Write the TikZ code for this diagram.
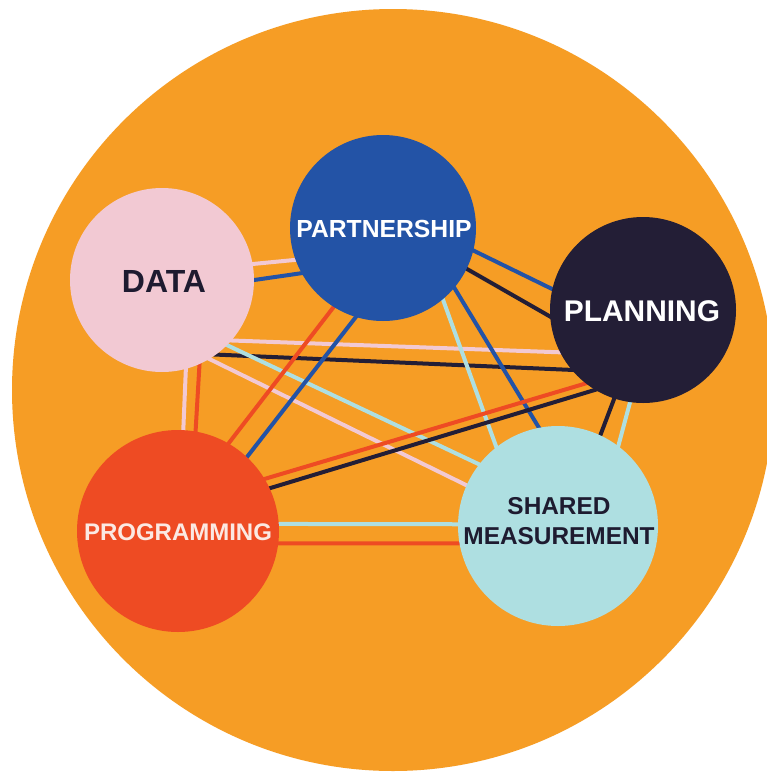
\documentclass[tikz,border=0pt]{standalone}
\usepackage{fontspec}
\setmainfont{Liberation Sans}
\pgfdeclarelayer{bglayer}
\pgfdeclarelayer{linelayer}
\pgfsetlayers{bglayer,linelayer,main}
\definecolor{orangebg}{HTML}{F69D25}
\definecolor{pinkc}{HTML}{F2C9D3}
\definecolor{bluec}{HTML}{2353A6}
\definecolor{navyc}{HTML}{231E36}
\definecolor{redc}{HTML}{EE4B23}
\definecolor{lbluec}{HTML}{AEDFE1}
\definecolor{textnavy}{HTML}{1E1B30}
\definecolor{creamc}{HTML}{FBE9E3}
\begin{document}
\begin{tikzpicture}[x=1pt,y=-1pt,
  circ/.style={circle, inner sep=0pt, draw=none},
  lbl/.style={inner sep=0pt, align=center, font=\bfseries},
  ln/.style={line width=4pt, shorten <=-3pt, shorten >=-3pt}]
\useasboundingbox (0,0) rectangle (767,774);
\begin{pgfonlayer}{bglayer}
  \fill[white] (0,0) rectangle (767,774);
  \begin{scope}
    \clip (0,0) rectangle (767,774);
    \fill[orangebg] (393,390) circle[radius=381pt];
  \end{scope}
\end{pgfonlayer}

% circles
\node[circ, fill=pinkc, minimum size=184pt] (data) at (162,280) {};
\node[circ, fill=bluec, minimum size=186pt] (part) at (383,228) {};
\node[circ, fill=navyc, minimum size=186pt] (plan) at (643,310) {};
\node[circ, fill=redc, minimum size=202pt] (prog) at (178,531) {};
\node[circ, fill=lbluec, minimum size=200pt] (meas) at (558,526) {};

% labels
\node[lbl, text=textnavy, font=\bfseries\fontsize{32}{36}\selectfont] (datat) at (164,281) {DATA};
\node[lbl, text=white, font=\bfseries\fontsize{24.7}{28}\selectfont] (partt) at (384,229) {PARTNERSHIP};
\node[lbl, text=white, font=\bfseries\fontsize{29.9}{34}\selectfont] (plant) at (642,311) {PLANNING};
\node[lbl, text=creamc, font=\bfseries\fontsize{24}{28}\selectfont] (progt) at (178,532) {PROGRAMMING};
\node[lbl, text=textnavy, font=\bfseries\fontsize{24.4}{30}\selectfont] (meast) at (559,521) {SHARED\\MEASUREMENT};

% connectors
\begin{pgfonlayer}{linelayer}
  % data - partnership
  \draw[ln, pinkc] (data.10) -- (part.200);
  \draw[ln, bluec] (data.0) -- (part.209);
  % data - programming
  \draw[ln, pinkc] (data.-75) -- (prog.87);
  \draw[ln, redc] (data.-66) -- (prog.80);
  % data - planning
  \draw[ln, pinkc] (data.-41) -- (plan.207);
  \draw[ln, navyc] (data.-54) -- (plan.220);
  % data - shared measurement
  \draw[ln, lbluec] (data.-45) -- (meas.142);
  \draw[ln, pinkc] (data.-59) -- (meas.156);
  % partnership - planning
  \draw[ln, bluec] (part.-14) -- (plan.167);
  \draw[ln, navyc] (part.-26) -- (plan.184);
  % partnership - programming
  \draw[ln, redc] (part.-122) -- (prog.60);
  \draw[ln, bluec] (part.-107) -- (prog.47);
  % partnership - shared measurement
  \draw[ln, lbluec] (part.-50) -- (meas.128);
  \draw[ln, bluec] (part.-40) -- (meas.101);
  % planning - programming
  \draw[ln, redc] (plan.232) -- (prog.31);
  \draw[ln, navyc] (plan.239) -- (prog.25);
  % planning - shared measurement
  \draw[ln, navyc] (plan.-108) -- (meas.65);
  \draw[ln, lbluec] (plan.-98) -- (meas.53);
  % programming - shared measurement
  \draw[ln, lbluec] (prog.4) -- (meas.179);
  \draw[ln, redc] (prog.-7) -- (meas.190);
\end{pgfonlayer}
\end{tikzpicture}
\end{document}
